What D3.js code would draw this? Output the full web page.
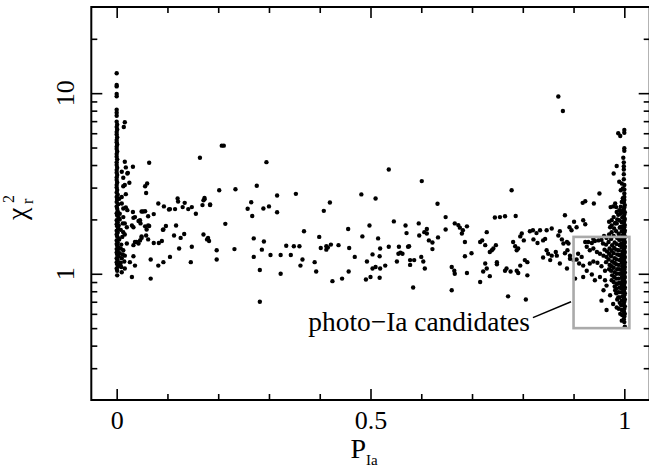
<!DOCTYPE html>
<html><head><meta charset="utf-8">
<script src="https://cdn.jsdelivr.net/npm/d3@7"></script>
<style>
html,body{margin:0;padding:0;background:#fff;}
svg{display:block;}
text{font-family:"Liberation Serif","Times New Roman",serif;fill:#000;}
</style></head><body>
<svg id="chart" width="649" height="469"></svg>
<script>
// ---------- data ----------
const xMajorTicks = [0, 0.5, 1];
const xTickLabels = ["0", "0.5", "1"];
const xMinorTicks = [0.1, 0.2, 0.3, 0.4, 0.6, 0.7, 0.8, 0.9];
const yMajorTicks = [1, 10];
const yTickLabels = ["1", "10"];
const yMinorTicks = [0.3, 0.4, 0.5, 0.6, 0.7, 0.8, 0.9, 2, 3, 4, 5, 6, 7, 8, 9, 20];

// objects with P_Ia close to 0
const leftCluster = [
 [0,12.9],[0,11.1],[0,10.9],[0,9.9],[0,9.6],[0,8.1],[0,7.8],[0,7.5],[0,6.95],
 [0.001,6.7],[0,6.5],[0.001,6.3],[0,6.1],[0,5.9],[0.001,5.7],[0,5.5],[0,5.35],[0.001,5.2],[0,5.05],
 [0,4.9],[0.001,4.75],[0,4.6],[0,4.45],[0.001,4.3],[0,4.15],[0,4.0],[0.001,3.87],[0,3.75],[0,3.63],
 [0.001,3.52],[0,3.41],[0,3.3],[0.001,3.2],[0,3.1],[0,3.0],[0.001,2.91],[0,2.82],[0.002,2.74],[0,2.66],
 [0.001,2.58],[0,2.5],[0.003,2.43],[0,2.36],[0.001,2.29],[0.002,2.22],[0,2.16],[0.001,2.1],[0.004,2.04],
 [0,1.98],[0.002,1.93],[0,1.88],[0.001,1.83],[0.003,1.78],[0,1.73],[0.002,1.69],[0,1.65],[0.001,1.61],
 [0.004,1.57],[0,1.53],[0.002,1.49],[0,1.46],[0.001,1.43],[0.003,1.4],[0,1.37],[0.002,1.34],[0,1.31],
 [0.001,1.28],[0.004,1.25],[0,1.22],[0.002,1.19],[0,1.16],[0.001,1.13],[0.003,1.1],[0,1.07],[0.001,1.04],
 [0.013,2.30],[0.018,2.33],[0.021,2.25],[0.013,2.06],[0.016,1.90],[0.020,1.81],[0.013,1.70],[0.016,1.65],
 [0.020,1.47],[0.013,1.35],[0.016,1.26],[0.015,1.17],[0.016,1.07],[0.010,1.02],[0.001,0.98],[0.006,2.0],
 [0.008,1.75],[0.005,1.55],[0.009,1.45],[0.006,1.3],[0.010,1.22],[0.007,1.12],[0.004,1.85],[0.011,1.6],
 [0.008,1.38],[0.012,1.9],[0.006,2.15],[0.010,2.45],[0.005,2.6],[0.008,1.15],[0.012,1.28],[0.009,1.09],
 [0.016,6.9],[0.014,6.5],[0.016,4.17],[0.010,3.67],[0.021,3.59],[0.025,3.19],[0.013,3.05],[0.018,2.76],
 [0.010,2.66],[0.016,3.1],[0.018,3.88],[0.022,3.62],[0.013,3.4]
];

// objects with intermediate P_Ia
const midScatter = [
 [0.032,3.91],[0.064,4.12],[0.056,3.05],[0.060,3.16],[0.058,2.80],
 [0.082,2.45],[0.093,2.36],[0.103,2.27],[0.049,2.21],[0.052,2.21],[0.073,2.14],[0.030,1.85],[0.091,1.75],
 [0.097,1.84],[0.064,1.84],[0.032,2.20],[0.056,2.22],[0.062,2.08],[0.105,2.28],[0.115,2.28],[0.121,2.51],
 [0.134,2.47],[0.141,2.28],[0.148,2.34],[0.156,2.15],[0.033,2.04],[0.043,1.96],[0.046,1.98],[0.056,1.83],
 [0.062,1.85],[0.059,1.76],[0.049,1.61],[0.046,1.53],[0.039,1.50],[0.033,1.44],[0.062,1.55],[0.073,1.48],
 [0.083,1.48],[0.089,1.52],[0.092,1.76],[0.113,1.63],[0.117,1.85],[0.126,1.58],[0.133,1.66],[0.123,1.38],
 [0.148,1.41],[0.171,1.65],[0.033,1.25],[0.036,1.11],[0.026,1.16],[0.030,0.96],[0.067,1.20],[0.082,1.11],
 [0.092,1.16],[0.105,1.24],[0.146,1.16],[0.067,0.94],[0.197,1.35],[0.197,1.20],[0.036,2.06],[0.130,2.34],
 [0.169,2.40],[0.184,2.40],[0.164,4.39],[0.202,2.90],[0.120,2.61],[0.173,2.63],
 [0.047,1.90],[0.033,1.81],[0.058,1.63],[0.049,1.58],[0.036,1.50],[0.043,1.47],
 [0.207,5.12],[0.211,5.12],[0.173,2.59],[0.171,2.55],[0.184,2.42],[0.234,2.94],[0.178,1.55],[0.180,1.58],
 [0.182,1.52],[0.214,1.89],[0.232,1.37],[0.258,2.29],[0.265,2.49],[0.267,2.09],[0.276,3.07],[0.295,4.15],
 [0.289,2.30],[0.300,2.36],[0.316,2.71],[0.316,2.19],[0.270,1.57],[0.270,1.24],[0.290,1.51],[0.286,1.36],
 [0.282,1.05],[0.282,0.70],[0.303,1.27],[0.323,1.27],[0.323,1.00],[0.334,1.43],[0.343,1.27],[0.349,1.42],
 [0.360,1.42],[0.353,2.77],[0.369,1.72],[0.366,1.20],[0.362,1.11],[0.390,1.16],[0.393,1.03],[0.399,1.60],
 [0.402,1.39],[0.408,2.23],[0.420,2.48],[0.413,1.42],[0.413,1.36],[0.416,1.40],[0.422,1.45],[0.425,0.91],
 [0.437,1.44],[0.444,0.94],[0.456,1.77],[0.458,1.39],[0.457,1.03],[0.469,1.24],[0.482,2.75],[0.484,1.61],
 [0.493,1.17],[0.491,0.93],[0.498,1.85],[0.500,0.96],[0.504,1.28],[0.504,1.07],[0.510,2.61],[0.510,1.09],
 [0.515,1.57],[0.519,1.38],[0.518,1.25],[0.519,1.07],[0.518,0.95],[0.529,1.11],[0.536,1.41],[0.536,3.78],
 [0.546,1.95],[0.552,1.17],[0.556,1.41],[0.555,1.29],[0.559,1.31],[0.563,1.29],[0.569,1.85],[0.571,1.68],
 [0.574,1.41],[0.576,1.42],[0.578,1.19],[0.578,1.12],[0.586,1.19],[0.584,0.84],[0.595,1.90],[0.596,1.63],
 [0.601,3.26],[0.600,1.24],[0.604,1.17],[0.607,1.07],[0.606,1.70],[0.611,1.77],[0.611,1.67],[0.615,1.53],
 [0.622,1.49],[0.622,1.37],[0.632,2.44],[0.633,1.59],[0.648,2.06],[0.648,1.76],
 [0.666,1.90],[0.673,1.86],[0.676,1.80],[0.680,1.67],[0.690,1.83],[0.682,1.74],[0.686,1.50],[0.699,1.30],
 [0.686,1.25],[0.690,1.01],[0.660,1.09],[0.665,1.04],[0.666,1.00],[0.660,0.81],[0.716,1.50],[0.720,1.53],
 [0.726,1.44],[0.729,1.70],[0.735,1.32],[0.739,1.35],[0.742,1.38],[0.747,1.44],[0.726,1.14],[0.729,1.07],
 [0.722,1.03],[0.735,0.97],[0.716,0.90],[0.749,1.16],[0.749,1.13],[0.745,2.05],[0.755,2.06],[0.765,2.08],
 [0.786,2.09],[0.765,1.04],[0.768,1.07],[0.776,1.03],[0.771,0.75],[0.781,1.50],[0.785,1.42],[0.791,1.38],
 [0.788,1.35],[0.795,1.61],[0.798,1.67],[0.802,1.53],[0.804,1.19],[0.809,1.16],[0.788,1.04],[0.795,1.11],
 [0.791,1.01],[0.809,0.98],[0.806,0.72],[0.814,1.72],[0.820,1.74],[0.827,1.68],[0.834,1.74],[0.821,1.55],
 [0.829,1.48],[0.840,1.53],[0.844,1.56],[0.847,1.35],[0.850,1.29],[0.857,1.26],[0.867,1.26],[0.865,1.32],
 [0.870,1.63],[0.873,1.72],[0.877,1.55],[0.880,1.47],[0.887,1.50],[0.883,2.11],[0.901,1.94],[0.906,1.81],
 [0.896,1.74],[0.890,1.47],[0.883,1.30],[0.888,1.35],[0.893,1.26],[0.887,1.07],[0.923,1.88],[0.919,1.98],
 [0.940,2.45],[0.870,9.58],[0.879,7.97],[0.951,2.78],[0.778,2.90],[0.918,2.47],[0.923,2.52],
 [0.892,1.81],[0.840,1.23],[0.854,1.19],[0.873,1.14],[0.900,1.19],[0.893,1.21],[0.857,1.78],[0.847,1.74]
];

// objects with P_Ia close to 1
const rightCluster = [
 [0.988,6.0],[0.992,5.79],[0.985,3.95],[0.979,3.59],[0.990,3.23],[0.995,3.16],[0.997,2.97],
 [0.973,2.34],[0.978,2.36],[0.984,2.34],[0.982,2.45],[0.985,2.20],[0.979,2.06],[0.975,1.98],
 [0.992,2.15],[0.995,2.22],[0.972,1.81],[0.982,1.90],
 [1.0,6.25],[1.0,6.04],[1.0,4.95],[1.0,4.8],[0.998,4.39],[0.999,4.14],[0.999,3.94],[0.999,3.78],
 [0.999,3.56],[0.999,3.34],[1.0,3.1],[1.0,2.93],[1.0,2.78],[1.0,2.66],
 [1.0,2.56],[0.999,2.48],[1.001,2.4],[1.0,2.33],[0.999,2.26],[1.001,2.19],[1.0,2.13],[0.999,2.07],
 [1.001,2.01],[1.0,1.96],[0.999,1.91],[1.001,1.86],[1.0,1.81],[0.999,1.77],[1.001,1.73],[1.0,1.69],
 [0.999,1.65],[1.001,1.61],[1.0,1.57],[0.999,1.53],[1.001,1.5],[1.0,1.47],[0.999,1.44],[1.001,1.41],
 [1.0,1.38],[0.999,1.35],[1.001,1.32],[1.0,1.29],[0.999,1.26],[1.001,1.24],[1.0,1.21],[0.999,1.18],
 [1.001,1.16],[1.0,1.13],[0.999,1.11],[1.001,1.09],[1.0,1.06],[0.999,1.04],[1.001,1.02],[1.0,1.0],
 [0.999,0.98],[1.001,0.96],[1.0,0.94],[0.999,0.92],[1.001,0.9],[1.0,0.88],[0.999,0.86],[1.001,0.84],
 [1.0,0.82],[0.999,0.8],[1.001,0.78],[1.0,0.76],[0.999,0.74],[1.001,0.72],[1.0,0.7],[0.999,0.68],
 [1.001,0.66],[1.0,0.64],[0.999,0.62],[1.001,0.6],[1.0,0.58],[0.999,0.56],[1.0,0.54],[1.001,0.51],
 [0.995,2.5],[0.993,2.35],[0.997,2.62],[0.990,2.25],[0.988,2.12],[0.986,2.0],[0.993,2.9],
 [0.995,2.2],[0.996,2.05],[0.995,1.93],[0.994,1.82],[0.995,1.72],[0.996,1.63],[0.995,1.55],[0.994,1.47],
 [0.995,1.4],[0.996,1.33],[0.995,1.27],[0.994,1.21],[0.995,1.15],[0.996,1.1],[0.995,1.05],[0.994,1.0],
 [0.995,0.95],[0.996,0.91],[0.995,0.87],[0.994,0.83],[0.995,0.79],[0.996,0.75],[0.995,0.71],[0.994,0.67],
 [0.995,0.63],[0.996,0.59],
 [0.990,1.98],[0.991,1.8],[0.989,1.66],[0.990,1.54],[0.991,1.44],[0.989,1.35],[0.990,1.27],[0.991,1.19],
 [0.989,1.12],[0.990,1.06],[0.991,1.0],[0.989,0.94],[0.990,0.89],[0.991,0.84],[0.989,0.79],[0.990,0.74],
 [0.991,0.69],[0.989,0.64],
 [0.985,1.9],[0.984,1.72],[0.986,1.58],[0.985,1.46],[0.984,1.36],[0.986,1.28],[0.985,1.2],[0.984,1.13],
 [0.986,1.06],[0.985,1.0],[0.984,0.94],[0.986,0.88],[0.985,0.83],[0.984,0.78],[0.986,0.72],
 [0.980,1.78],[0.979,1.62],[0.981,1.49],[0.980,1.39],[0.979,1.3],[0.981,1.22],[0.980,1.15],[0.979,1.08],
 [0.981,1.02],[0.980,0.96],[0.979,0.9],[0.981,0.85],
 [0.975,1.7],[0.974,1.56],[0.976,1.44],[0.975,1.34],[0.974,1.25],[0.976,1.17],[0.975,1.1],[0.974,1.04],
 [0.976,0.98],[0.975,0.92],
 [0.970,1.65],[0.969,1.5],[0.971,1.38],[0.970,1.29],[0.969,1.2],[0.971,1.12],[0.970,1.06],
 [0.965,1.58],[0.964,1.45],[0.966,1.33],[0.965,1.24],[0.964,1.16],
 [0.960,1.62],[0.958,1.47],[0.961,1.36],[0.959,1.26],
 [0.923,1.50],[0.929,1.50],[0.936,1.48],[0.939,1.56],[0.942,1.52],[0.949,1.53],[0.955,1.54],[0.926,1.41],
 [0.932,1.35],[0.939,1.38],[0.946,1.32],[0.952,1.29],[0.909,1.29],[0.916,1.24],[0.906,1.20],[0.911,1.14],
 [0.919,1.11],[0.932,1.14],[0.939,1.17],[0.947,1.15],[0.955,1.10],[0.962,1.04],[0.926,1.04],[0.936,0.99],
 [0.919,0.96],[0.942,0.92],[0.952,0.96],[0.962,0.92],[0.965,0.86],[0.959,0.81],[0.955,0.71],[0.965,0.63],
 [0.972,0.76],[0.978,0.68],[0.985,0.65],[0.992,0.60],[0.995,0.55],[0.903,0.94],[0.985,0.88],[0.982,0.81],
 [0.988,0.74],[0.970,1.94],[0.975,1.85],[0.982,1.91],[0.992,1.81],[0.998,1.94]
];

// annotation (data units)
const boxX = [0.9, 1.01];
const boxY = [0.5, 1.6];
const leaderFrom = [0.82, 0.572];
const leaderTo = [0.895, 0.70];
const noteAt = [0.814, 0.484];
const noteText = "photo\u2212Ia candidates";

// ---------- layout ----------
const L = 91.3, R = 649.7, T = 7, B = 400;
const svg = d3.select("#chart");

const x = d3.scaleLinear().domain([-0.05, 1.05]).range([L, R]);
const y = d3.scaleLog().domain([0.2, 30]).range([B, T]);

const MAJ = 11, MIN = 6;
function styleAxis(g){
  g.select(".domain").remove();
  g.selectAll(".tick line").attr("stroke","#000").attr("stroke-width",1.6);
}
// bottom
svg.append("g").attr("transform",`translate(0,${B})`)
  .call(d3.axisBottom(x).tickValues(xMinorTicks).tickSize(-MIN).tickFormat(""))
  .call(styleAxis);
const xb = svg.append("g").attr("transform",`translate(0,${B})`)
  .call(d3.axisBottom(x).tickValues(xMajorTicks).tickSize(-MAJ).tickPadding(11)
        .tickFormat((d,i)=>xTickLabels[i]))
  .call(styleAxis);
xb.selectAll("text").attr("font-size",26).attr("font-family",'"Liberation Serif","Times New Roman",serif').attr("fill","#000");
// top
svg.append("g").attr("transform",`translate(0,${T})`)
  .call(d3.axisTop(x).tickValues(xMinorTicks).tickSize(-MIN).tickFormat("")).call(styleAxis);
svg.append("g").attr("transform",`translate(0,${T})`)
  .call(d3.axisTop(x).tickValues(xMajorTicks).tickSize(-MAJ).tickFormat("")).call(styleAxis);
// left
svg.append("g").attr("transform",`translate(${L},0)`)
  .call(d3.axisLeft(y).tickValues(yMinorTicks).tickSize(-MIN).tickFormat("")).call(styleAxis);
svg.append("g").attr("transform",`translate(${L},0)`)
  .call(d3.axisLeft(y).tickValues(yMajorTicks).tickSize(-MAJ).tickFormat("")).call(styleAxis);
// right
svg.append("g").attr("transform",`translate(${R},0)`)
  .call(d3.axisRight(y).tickValues(yMinorTicks).tickSize(-MIN).tickFormat("")).call(styleAxis);
svg.append("g").attr("transform",`translate(${R},0)`)
  .call(d3.axisRight(y).tickValues(yMajorTicks).tickSize(-MAJ).tickFormat("")).call(styleAxis);

// y tick labels (rotated)
yMajorTicks.forEach((v,i)=>{
  svg.append("text")
    .attr("transform",`translate(${L-17},${y(v)}) rotate(-90)`)
    .attr("text-anchor","middle")
    .attr("font-size",26)
    .text(yTickLabels[i]);
});

// frame
svg.append("rect").attr("x",L).attr("y",T).attr("width",R-L).attr("height",B-T)
  .attr("fill","none").attr("stroke","#000").attr("stroke-width",2);

// points
const allPts = leftCluster.concat(midScatter, rightCluster);
svg.append("g").selectAll("circle").data(allPts).join("circle")
  .attr("cx",d=>x(d[0])).attr("cy",d=>y(d[1])).attr("r",2.2).attr("fill","#000");

// annotation box
svg.append("rect")
  .attr("x",x(boxX[0])).attr("y",y(boxY[1]))
  .attr("width",x(boxX[1])-x(boxX[0])).attr("height",y(boxY[0])-y(boxY[1]))
  .attr("fill","none").attr("stroke","#aaaaaa").attr("stroke-width",2.6);
svg.append("line")
  .attr("x1",x(leaderFrom[0])).attr("y1",y(leaderFrom[1]))
  .attr("x2",x(leaderTo[0])).attr("y2",y(leaderTo[1]))
  .attr("stroke","#000").attr("stroke-width",1.5);
svg.append("text").attr("x",x(noteAt[0])).attr("y",y(noteAt[1]))
  .attr("text-anchor","end").attr("font-size",27.4).text(noteText);

// x axis title P_Ia
const xt = svg.append("text").attr("x",(L+R)/2-20).attr("y",458).attr("font-size",28);
xt.append("tspan").text("P");
xt.append("tspan").attr("font-size",15).attr("dy",7).text("Ia");

// y axis title chi_r^2
const yt = svg.append("g").attr("transform","translate(26,220) rotate(-90)");
yt.append("text").attr("x",0).attr("y",0).attr("font-size",28).text("\u03c7");
yt.append("text").attr("x",16).attr("y",7).attr("font-size",16).text("r");
yt.append("text").attr("x",17).attr("y",-12).attr("font-size",16).text("2");
</script>
</body></html>
